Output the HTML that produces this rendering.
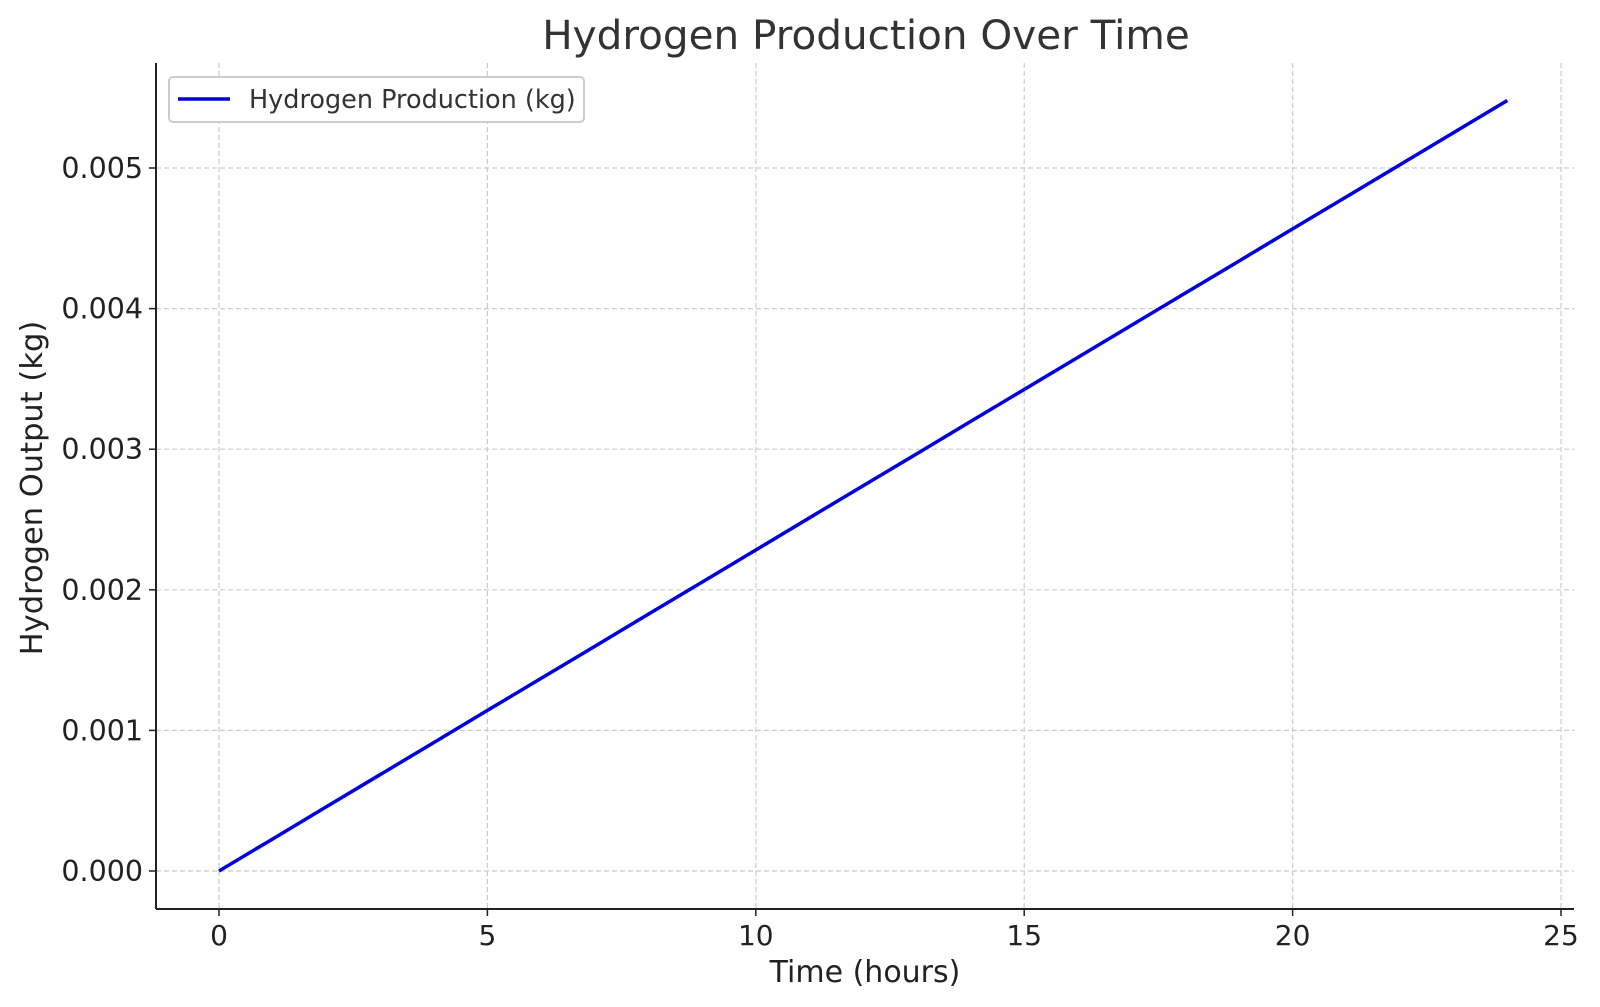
<!DOCTYPE html>
<html><head><meta charset="utf-8"><style>
body{margin:0;background:#fff}
svg{display:block;font-family:"DejaVu Sans","Liberation Sans",sans-serif}
</style></head><body>
<svg id="c" width="1600" height="1007">
<text x="866" y="49" text-anchor="middle" font-size="40.5" fill="#333">Hydrogen Production Over Time</text>
<g id="grid"></g>
<g id="ticks"></g>
<path id="line" fill="none" stroke="#0000dd" stroke-width="3.5"/>
<line x1="156" y1="63" x2="156" y2="909" stroke="#222" stroke-width="2"/>
<line x1="156" y1="909" x2="1574" y2="909" stroke="#222" stroke-width="2"/>
<text x="865" y="982" text-anchor="middle" font-size="30" fill="#222">Time (hours)</text>
<text transform="translate(42,488) rotate(-90)" text-anchor="middle" font-size="30.5" fill="#222">Hydrogen Output (kg)</text>
<g>
<rect x="169" y="77" width="415" height="45" rx="4" fill="#fff" stroke="#ccc" stroke-width="2"/>
<line x1="178" y1="99" x2="230" y2="99" stroke="#0000dd" stroke-width="3.5"/>
<text x="249" y="108" font-size="25.5" fill="#333">Hydrogen Production (kg)</text>
</g>
</svg>
<script>
const hours=[0,1,2,3,4,5,6,7,8,9,10,11,12,13,14,15,16,17,18,19,20,21,22,23,24];
const output=[0,0.000228,0.000457,0.000685,0.000913,0.001142,0.00137,0.001598,0.001827,0.002055,0.002283,0.002512,0.00274,0.002968,0.003197,0.003425,0.003653,0.003882,0.00411,0.004338,0.004567,0.004795,0.005023,0.005252,0.00548];
const xTicks=[0,5,10,15,20,25];
const yTicks=[0,0.001,0.002,0.003,0.004,0.005];
const yLabels=["0.000","0.001","0.002","0.003","0.004","0.005"];
const X=v=>219+v*53.68;
const Y=v=>871-v*140600;
const ns="http://www.w3.org/2000/svg";
const grid=document.getElementById('grid'),ticks=document.getElementById('ticks');
function mk(tag,a,p){const e=document.createElementNS(ns,tag);for(const k in a)e.setAttribute(k,a[k]);p.appendChild(e);return e;}
xTicks.forEach(t=>{
 const g=mk('line',{x1:X(t),x2:X(t),y1:63,y2:909,stroke:'#ccc','stroke-dasharray':'5,3','stroke-width':1.2},grid);
 
 
 const tk=mk('line',{x1:X(t),x2:X(t),y1:909,y2:916,stroke:'#222','stroke-width':1.5},ticks);
 
 
 const l=mk('text',{x:X(t),y:945,'text-anchor':'middle','font-size':28,fill:'#222'},ticks);
 l.textContent=t;
 
 
});
yTicks.forEach((t,i)=>{
 const g=mk('line',{x1:156,x2:1574,y1:Y(t),y2:Y(t),stroke:'#ccc','stroke-dasharray':'5,3','stroke-width':1.2},grid);
 
 
 const tk=mk('line',{x1:149,x2:156,y1:Y(t),y2:Y(t),stroke:'#222','stroke-width':1.5},ticks);
 
 
 const l=mk('text',{x:143,y:Y(t)+10,'text-anchor':'end','font-size':28.5,fill:'#222'},ticks);
 l.textContent=yLabels[i];
 
 
});
document.getElementById('line').setAttribute('d',hours.map((h,i)=>(i?'L':'M')+X(h)+','+Y(output[i])).join(''));
</script>
</body></html>
